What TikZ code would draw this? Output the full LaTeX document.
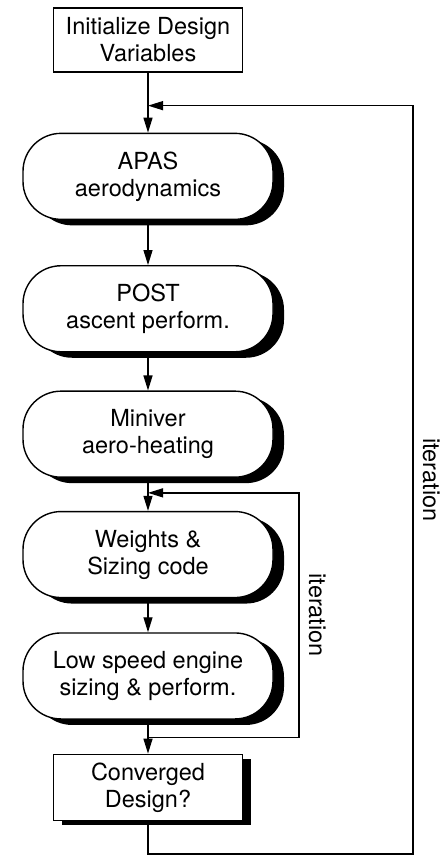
\documentclass[tikz,border=0pt]{standalone}
\usepackage{fontspec}
\setmainfont{TeX Gyre Heros}
\usetikzlibrary{positioning,shadows,arrows.meta}

\begin{document}
\begin{tikzpicture}[x=1pt, y=1pt, font=\fontsize{23.5}{27}\selectfont,
    roundnode/.style={rectangle, rounded corners=38pt, draw=black, fill=white, line width=1.4pt, minimum width=250pt, minimum height=86pt, align=center, drop shadow={shadow xshift=11pt, shadow yshift=-6pt, fill=black, opacity=1}},
    plainnode/.style={rectangle, draw=black, fill=white, line width=1.3pt, minimum width=189pt, minimum height=64pt, align=center},
    flowarrow/.style={line width=1.3pt, -{Triangle[length=15pt, width=9pt]}},
    looplabel/.style={rotate=-90, anchor=south, inner sep=9pt}]

        \useasboundingbox (0,0) rectangle (446,-856);

        \node[plainnode] (init) at (148,-40) {Initialize Design\\Variables};
        \node[roundnode] (apas) [below=60pt of init] {APAS\\aerodynamics};
        \node[roundnode] (post) [below=45pt of apas] {POST\\ascent perform.};
        \node[roundnode] (miniver) [below=38pt of post] {Miniver\\aero-heating};
        \node[roundnode] (weights) [below=33pt of miniver] {Weights \&\\Sizing code};
        \node[roundnode] (lowspeed) [below=34pt of weights] {Low speed engine\\sizing \& perform.};
        \node[plainnode, minimum height=66pt, drop shadow={shadow xshift=8pt, shadow yshift=-5pt, fill=black, opacity=1}] (conv) [below=34pt of lowspeed] {Converged\\Design?};

        \coordinate[below=33pt of init.south] (outerjoin);
        \coordinate[below=15pt of miniver.south] (innerjoin);
        \coordinate[below=18pt of lowspeed.south] (innerstart);

        \draw[flowarrow] (init) -- (apas);
        \draw[flowarrow] (apas) -- (post);
        \draw[flowarrow] (post) -- (miniver);
        \draw[flowarrow] (miniver) -- (weights);
        \draw[flowarrow] (weights) -- (lowspeed);
        \draw[flowarrow] (lowspeed) -- (conv);

        \draw[flowarrow] (innerstart) -- ++(151,0) |- node[looplabel, pos=0.25] {iteration} (innerjoin);
        \draw[flowarrow] (conv.south) -- ++(0,-33) -- ++(265,0) |- node[looplabel, pos=0.25] {iteration} (outerjoin);

        \end{tikzpicture}
\end{document}
